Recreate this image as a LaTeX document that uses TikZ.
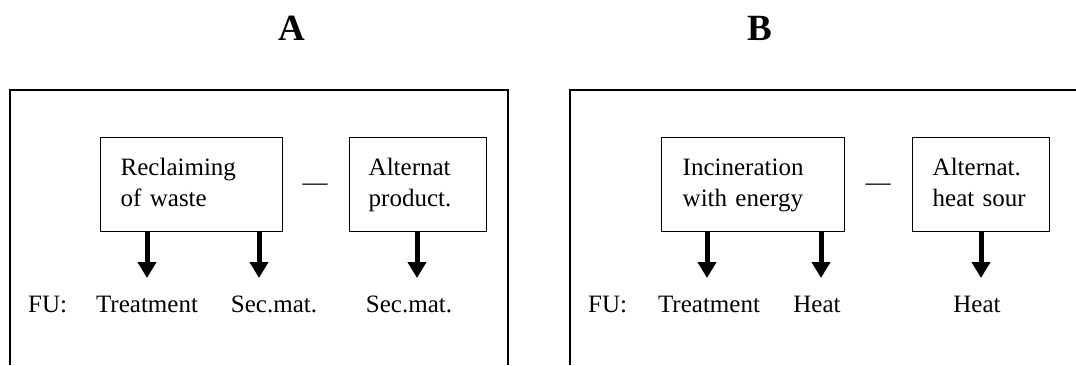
\documentclass[tikz,border=0pt]{standalone}
\usepackage{fontspec}
\setmainfont{Liberation Serif}
\usetikzlibrary{arrows.meta}
\begin{document}
\begin{tikzpicture}[x=1pt,y=-1pt,
  frame/.style={line width=1.4pt},
  procbox/.style={draw,line width=1.4pt,minimum height=94pt,anchor=north west,
    align=left,inner xsep=0pt,font=\fontsize{25}{31}\selectfont},
  lbl/.style={anchor=base,font=\fontsize{25}{30}\selectfont,inner sep=0pt},
  head/.style={anchor=base,font=\fontsize{37}{42}\selectfont\bfseries,inner sep=0pt},
  fu/.style={line width=5pt,-{Triangle[width=18pt,length=16pt]}}]
\useasboundingbox (0,0) rectangle (1076,365);

% panel titles
\node[head] (titA) at (292,40) {A};
\node[head] (titB) at (760,40) {B};

% open frames
\draw[frame] (10,365) -- (10,90) -- (508,90) -- (508,365);
\draw[frame] (570,365) -- (570,90) -- (1076,90);

% panel A
\node[procbox,minimum width=182pt,text width=142pt] (rec) at (100,137) {\strut Reclaiming\\\strut of waste};
\node[procbox,minimum width=137pt,text width=99pt] (altA) at (349,137) {\strut Alternat\\\strut product.};
\node[lbl] (minA) at (315,190) {—};
\node[lbl,anchor=base west] (fuA) at (28,312) {FU:};
\node[lbl] (trA) at (147,312) {Treatment};
\node[lbl] (smA) at (274,312) {Sec.mat.};
\node[lbl] (smA2) at (409,312) {Sec.mat.};
\coordinate (tA1) at (147,278);
\coordinate (tA2) at (259,278);
\coordinate (tA3) at (417,278);
\draw[fu] (rec.south -| tA1) -- (tA1);
\draw[fu] (rec.south -| tA2) -- (tA2);
\draw[fu] (altA.south -| tA3) -- (tA3);

% panel B
\node[procbox,minimum width=183pt,text width=141pt] (inc) at (661,137) {\strut Incineration\\\strut with energy};
\node[procbox,minimum width=137pt,text width=97pt] (altB) at (912,137) {\strut Alternat.\\\strut heat sour};
\node[lbl] (minB) at (878,190) {—};
\node[lbl,anchor=base west] (fuB) at (588,312) {FU:};
\node[lbl] (trB) at (709,312) {Treatment};
\node[lbl] (htB) at (817,312) {Heat};
\node[lbl] (htB2) at (977,312) {Heat};
\coordinate (tB1) at (707,278);
\coordinate (tB2) at (821,278);
\coordinate (tB3) at (981,278);
\draw[fu] (inc.south -| tB1) -- (tB1);
\draw[fu] (inc.south -| tB2) -- (tB2);
\draw[fu] (altB.south -| tB3) -- (tB3);
\end{tikzpicture}
\end{document}
